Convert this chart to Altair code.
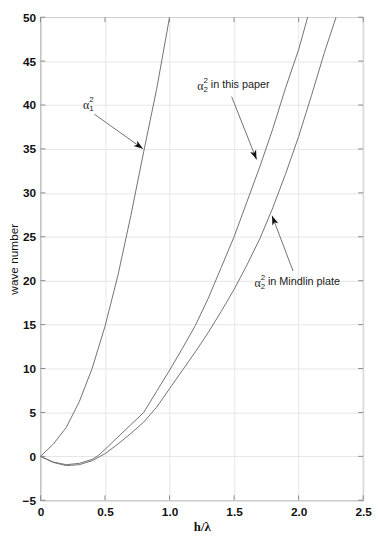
import math
import altair as alt
import pandas as pd

# ---- data ----
a1_x = [0, 0.1, 0.2, 0.3, 0.4, 0.5, 0.6, 0.7, 0.8, 0.9, 1.0]
a1_y = [0, 1.4, 3.3, 6.2, 10.0, 14.8, 20.6, 27.4, 34.7, 41.8, 50.0]

p_x = [0, 0.1, 0.2, 0.3, 0.4, 0.45, 0.5, 0.6, 0.7, 0.8, 0.9, 1.0, 1.1, 1.2,
       1.3, 1.4, 1.5, 1.6, 1.7, 1.8, 1.9, 2.0, 2.07]
p_y = [0, -0.65, -0.95, -0.8, -0.35, 0.1, 0.8, 2.2, 3.6, 5.0, 7.4, 9.8, 12.3,
       14.9, 18.0, 21.5, 25.0, 29.0, 33.0, 37.3, 42.0, 46.3, 50.0]

m_x = [0, 0.1, 0.2, 0.3, 0.4, 0.5, 0.6, 0.7, 0.8, 0.9, 1.0, 1.1, 1.2, 1.3,
       1.4, 1.5, 1.6, 1.7, 1.8, 1.9, 2.0, 2.1, 2.2, 2.29]
m_y = [0, -0.7, -1.05, -0.95, -0.5, 0.3, 1.4, 2.6, 3.9, 5.6, 7.7, 9.8, 11.9,
       14.1, 16.5, 19.0, 21.8, 24.8, 28.3, 32.2, 36.4, 41.1, 46.0, 50.0]

x_ticks = [0, 0.5, 1.0, 1.5, 2.0, 2.5]
y_ticks = [-5, 0, 5, 10, 15, 20, 25, 30, 35, 40, 45, 50]

ann_x = [0.353, 1.239, 1.682]
ann_y = [39.97, 42.2, 19.75]
ann_sup = ["2", "2", "2"]
ann_sub = ["1", "2", "2"]
ann_words = ["", "in this paper", "in Mindlin plate"]

arr_tail_x = [0.418, 1.481, 1.957]
arr_tail_y = [38.95, 40.96, 21.1]
arr_tip_x = [0.794, 1.674, 1.794]
arr_tip_y = [35.02, 33.8, 27.4]

# ---- chart ----
W, H = 328, 491
xs = alt.Scale(domain=[0, 2.5], nice=False, zero=False)
ys = alt.Scale(domain=[-5, 50], nice=False, zero=False)

curves = pd.concat([
    pd.DataFrame({"x": a1_x, "y": a1_y, "s": "a1"}),
    pd.DataFrame({"x": p_x, "y": p_y, "s": "paper"}),
    pd.DataFrame({"x": m_x, "y": m_y, "s": "mindlin"}),
])

lines = alt.Chart(curves).mark_line(color="#707070", strokeWidth=1).encode(
    x=alt.X("x:Q", scale=xs, axis=alt.Axis(
        values=x_ticks, title="h/λ",
        labelExpr="datum.value == 0 ? '0' : format(datum.value, '.1f')",
        labelFlush=False, labelPadding=7, titlePadding=3,
        titleFont="Liberation Serif", titleFontSize=13, titleFontWeight="bold")),
    y=alt.Y("y:Q", scale=ys, axis=alt.Axis(
        values=y_ticks, title="wave number", labelPadding=5,
        titleX=-20, titleBaseline="bottom",
        titleFont="Liberation Sans", titleFontSize=12, titleFontWeight="normal")),
    detail="s:N",
)

xt = pd.DataFrame({"x": x_ticks})
yt = pd.DataFrame({"y": y_ticks})
tick_style = dict(color="#8a8a8a", strokeWidth=1)
t_bottom = alt.Chart(xt).mark_rule(**tick_style).encode(
    x=alt.X("x:Q", scale=xs), y=alt.value(H), y2=alt.value(H - 5))
t_top = alt.Chart(xt).mark_rule(**tick_style).encode(
    x=alt.X("x:Q", scale=xs), y=alt.value(0), y2=alt.value(5))
t_left = alt.Chart(yt).mark_rule(**tick_style).encode(
    y=alt.Y("y:Q", scale=ys), x=alt.value(0), x2=alt.value(5))
t_right = alt.Chart(yt).mark_rule(**tick_style).encode(
    y=alt.Y("y:Q", scale=ys), x=alt.value(W), x2=alt.value(W - 5))

sx, sy = W / 2.5, H / 55.0
angles = []
for tx, ty, hx, hy in zip(arr_tail_x, arr_tail_y, arr_tip_x, arr_tip_y):
    dxp = (hx - tx) * sx
    dyp = -(hy - ty) * sy
    angles.append(math.degrees(math.atan2(dxp, -dyp)) % 360)

arr = pd.DataFrame({"x": arr_tail_x, "y": arr_tail_y,
                    "tx": arr_tip_x, "ty": arr_tip_y, "ang": angles})
shafts = alt.Chart(arr).mark_rule(color="#707070", strokeWidth=1).encode(
    x=alt.X("x:Q", scale=xs), y=alt.Y("y:Q", scale=ys),
    x2="tx:Q", y2="ty:Q")
heads = alt.Chart(arr).mark_point(
    shape="M0,0L-0.65,1.9L0,1.4L0.65,1.9Z", filled=True, color="#111111",
    opacity=1, size=100, strokeWidth=0).encode(
    x=alt.X("tx:Q", scale=xs, title="h/λ"), y=alt.Y("ty:Q", scale=ys, title="wave number"),
    angle=alt.Angle("ang:Q", scale=None))

ann = pd.DataFrame({"x": ann_x, "y": ann_y, "sup": ann_sup,
                    "sub": ann_sub, "w": ann_words})
enc = dict(x=alt.X("x:Q", scale=xs), y=alt.Y("y:Q", scale=ys))
alpha = alt.Chart(ann).mark_text(
    text="α", font="Liberation Serif", fontSize=12, color="#222",
    align="center", baseline="middle").encode(**enc)
sup = alt.Chart(ann).mark_text(
    font="Liberation Sans", fontSize=8, color="#222", align="center",
    baseline="middle", dx=5.5, dy=-5).encode(text="sup:N", **enc)
sub = alt.Chart(ann).mark_text(
    font="Liberation Sans", fontSize=8, color="#222", align="center",
    baseline="middle", dx=5.5, dy=4).encode(text="sub:N", **enc)
words = alt.Chart(ann).mark_text(
    font="Liberation Sans", fontSize=11, color="#222", align="left",
    baseline="middle", dx=10.5, dy=-0.5).encode(text="w:N", **enc)

chart = alt.layer(
    lines, t_bottom, t_top, t_left, t_right, shafts, heads, alpha, sup, sub, words
).properties(
    width=W, height=H,
    padding={"left": 33, "top": 5, "right": 10, "bottom": 34},
    autosize=alt.AutoSizeParams(type="none"),
).configure_view(
    stroke="#8a8a8a", strokeWidth=1.2
).configure_axis(
    grid=True, gridColor="#e6e6e6", gridWidth=1, ticks=False, tickSize=0,
    domain=False, labelFont="Liberation Sans", labelFontSize=12,
    labelFontWeight="bold", labelColor="#111", titleColor="#111",
    labelOverlap=False,
)

chart.save("out.html", embed_options={"renderer": "svg", "actions": False})
